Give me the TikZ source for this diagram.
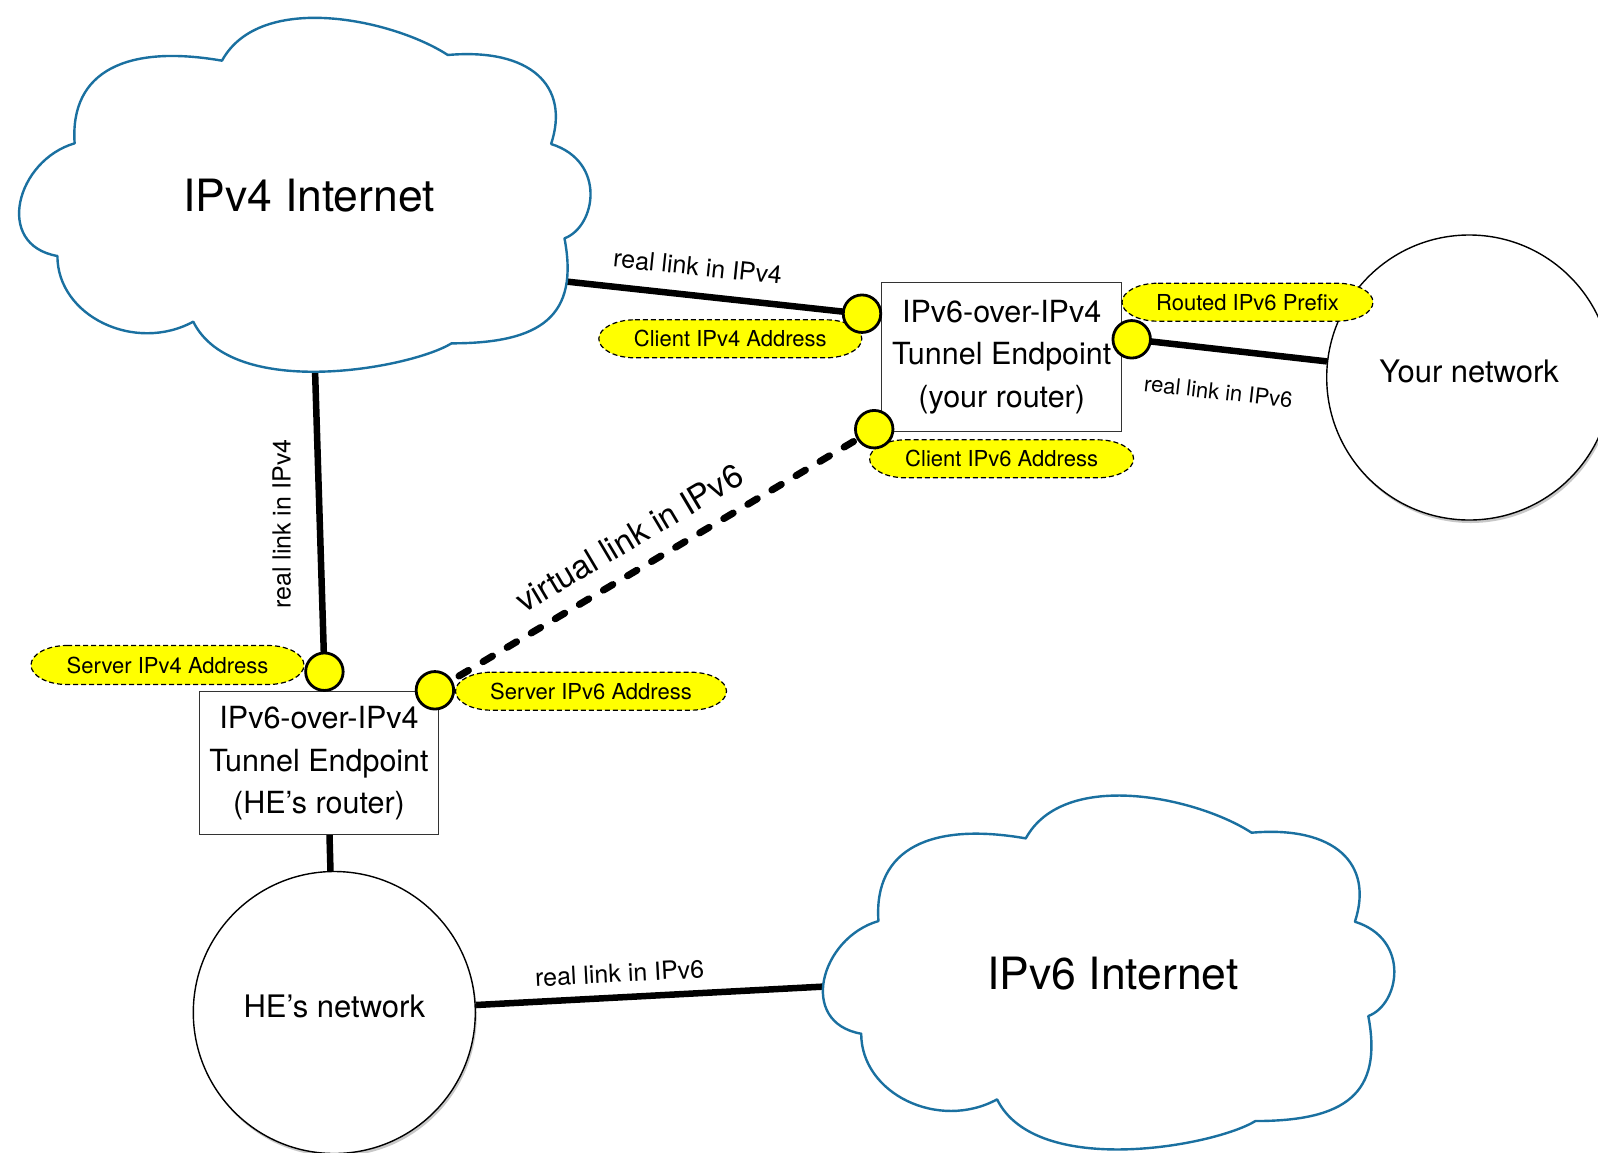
\documentclass[tikz,border=0pt]{standalone}
\usepackage{fontspec}
\setmainfont{TeX Gyre Heros}
\usetikzlibrary{shapes.geometric,shadows}
\definecolor{cloudblue}{RGB}{26,112,160}
\definecolor{addryellow}{RGB}{255,255,0}
\pgfdeclarelayer{back}
\pgfdeclarelayer{wires}
\pgfsetlayers{back,wires,main}
\tikzset{
  link/.style={line width=6.5pt, draw=black},
  vlink/.style={line width=7pt, draw=black, dash pattern=on 11pt off 17pt, line cap=round},
  dotnode/.style={circle, fill=addryellow, draw=black, line width=2.8pt, minimum size=37.5pt, inner sep=0pt},
  addrshape/.style={fill=addryellow, draw=black, line width=1.2pt, dash pattern=on 5pt off 3pt},
  addrtext/.style={inner sep=0pt, font=\fontsize{22}{26}\selectfont},
  endpoint/.style={rectangle, draw=black!80, line width=1.3pt, fill=white, align=center, inner sep=0pt, font=\fontsize{30.5}{42.5}\selectfont},
  netcircle/.style={circle, draw=black, line width=1.4pt, fill=white, inner sep=0pt, text depth=12pt, font=\fontsize{31}{36}\selectfont, drop shadow={shadow xshift=1.5pt, shadow yshift=-3pt, opacity=0.3, fill=black!70}},
  linklabel/.style={inner sep=0pt, font=\fontsize{25}{30}\selectfont},
  cloudline/.style={draw=cloudblue, line width=2.4pt, fill=white, line join=round},
  cloudtext/.style={inner sep=0pt, font=\fontsize{44.5}{52}\selectfont},
}
% name, x, y, width, height, text
\newcommand{\addrlabel}[6]{%
  \path[addrshape] ({#2-#4/2+36},{#3+#5/2}) -- ({#2+#4/2-36},{#3+#5/2})
    arc[start angle=90,end angle=-90,x radius=36pt,y radius={(#5)*0.5pt}]
    -- ({#2-#4/2+36},{#3-#5/2})
    arc[start angle=270,end angle=90,x radius=36pt,y radius={(#5)*0.5pt}] -- cycle;
  \node[addrtext] (#1) at (#2,#3) {#6};}
\begin{document}
\begin{tikzpicture}[x=1pt,y=1pt]
\useasboundingbox (0,0) rectangle (1598,-1152);
\clip (0,0) rectangle (1598,-1152);
\begin{pgfonlayer}{back}
\fill[white] (0,0) rectangle (1598,-1152);
\end{pgfonlayer}
% IPv4 cloud
\begin{scope}[xscale=0.38270,yscale=0.33333]
\path[cloudline] (580,-182) .. controls (680.6,28.6) and (1029.2,-59.4) .. (1170,-165)
 .. controls (1386.5,-143.2) and (1490.2,-257.8) .. (1440,-432)
 .. controls (1585.8,-484.5) and (1557.2,-679.8) .. (1475,-715)
 .. controls (1513.8,-948.3) and (1414.5,-1030) .. (1180,-1030)
 .. controls (1071.6,-1105.9) and (606.8,-1202.4) .. (505,-965)
 .. controls (352,-1060.4) and (150,-948) .. (150,-768)
 .. controls (-16.8,-734.7) and (43.2,-480.6) .. (195,-430)
 .. controls (181.8,-210.4) and (334.7,-133) .. (580,-182) -- cycle;
\end{scope}
% IPv6 cloud
\begin{scope}[shift={(803.8,-777.7)},xscale=0.38270,yscale=0.33333]
\path[cloudline] (580,-182) .. controls (680.6,28.6) and (1029.2,-59.4) .. (1170,-165)
 .. controls (1386.5,-143.2) and (1490.2,-257.8) .. (1440,-432)
 .. controls (1585.8,-484.5) and (1557.2,-679.8) .. (1475,-715)
 .. controls (1513.8,-948.3) and (1414.5,-1030) .. (1180,-1030)
 .. controls (1071.6,-1105.9) and (606.8,-1202.4) .. (505,-965)
 .. controls (352,-1060.4) and (150,-948) .. (150,-768)
 .. controls (-16.8,-734.7) and (43.2,-480.6) .. (195,-430)
 .. controls (181.8,-210.4) and (334.7,-133) .. (580,-182) -- cycle;
\end{scope}
\node[cloudtext] (c4) at (309.2,-195.7) {IPv4 Internet};
\node[cloudtext] (c6) at (1113,-973.3) {IPv6 Internet};

\node[netcircle, minimum size=285pt] (yournet) at (1469.2,-377.5) {Your network};
\node[netcircle, minimum size=282pt] (henet) at (334.3,-1012.5) {HE’s network};

\node[endpoint, minimum width=240pt, minimum height=149pt] (router) at (1001.7,-357) {IPv6-over-IPv4\\Tunnel Endpoint\\(your router)};
\node[endpoint, minimum width=239.5pt, minimum height=143pt] (hebox) at (319,-763.3) {IPv6-over-IPv4\\Tunnel Endpoint\\(HE’s router)};

\addrlabel{cv4lbl}{730.3}{-338.8}{263}{38}{Client IPv4 Address}
\addrlabel{cv6lbl}{1001.6}{-458.8}{264}{38}{Client IPv6 Address}
\addrlabel{rlbl}{1247.5}{-302.2}{251}{38}{Routed IPv6 Prefix}
\addrlabel{sv4lbl}{167.5}{-665}{273}{39}{Server IPv4 Address}
\addrlabel{sv6lbl}{591}{-691.2}{271}{38}{Server IPv6 Address}

\node[dotnode] (cv4) at (862,-313.7) {};
\node[dotnode] (cv6) at (874.2,-429.2) {};
\node[dotnode] (rdot) at (1131.7,-339.3) {};
\node[dotnode] (sv4) at (324.4,-671.7) {};
\node[dotnode] (sv6) at (434.9,-690.3) {};

\coordinate (c4e) at (565,-281.4);
\coordinate (c4b) at (315,-369);
\coordinate (c6e) at (827,-986.4);
\coordinate (hebot) at (329.5,-835);

\node[linklabel, rotate=-6] (l1) at (697.8,-266.7) {real link in IPv4};
\node[linklabel, rotate=-6.5, font=\fontsize{22}{26}\selectfont] (l2) at (1218.3,-391.7) {real link in IPv6};
\node[linklabel, rotate=90] (l3) at (281.7,-524.2) {real link in IPv4};
\node[linklabel, rotate=3] (l4) at (619.6,-973.2) {real link in IPv6};
\node[linklabel, rotate=30.7, font=\fontsize{33}{40}\selectfont] (l5) at (629,-538) {virtual link in IPv6};

\begin{pgfonlayer}{wires}
\draw[link] (c4e) -- (cv4.center);
\draw[link] (c4b) -- (sv4.center);
\draw[link] (rdot.center) -- (yournet);
\draw[vlink] (sv6.center) -- (cv6.center);
\draw[link] (hebot) -- (henet);
\draw[link] (henet) -- (c6e);
\end{pgfonlayer}
\end{tikzpicture}
\end{document}
